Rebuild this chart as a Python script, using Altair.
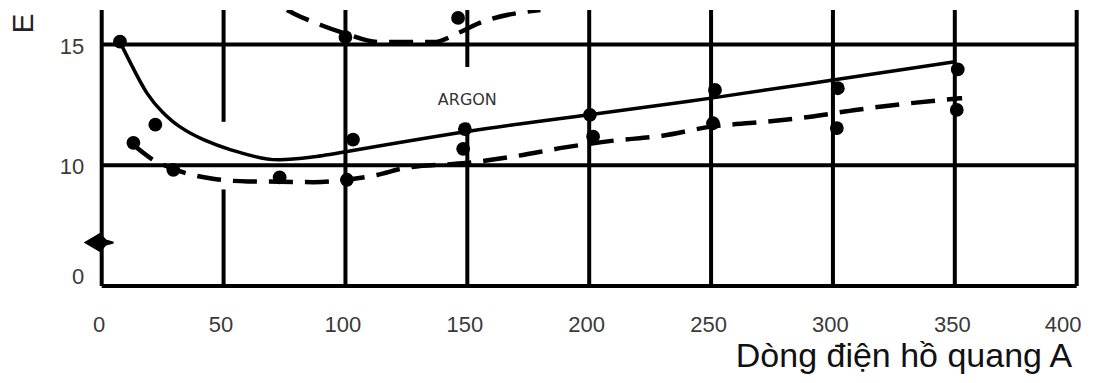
import altair as alt
import pandas as pd

# ---------------- data ----------------
# Argon, solid curve
solid_x = [7.5, 12, 18.5, 25, 32, 42, 53, 63, 73, 87, 100, 150, 200, 250, 300, 350]
solid_y = [15.1, 14.2, 13.0, 12.2, 11.6, 11.05, 10.64, 10.36, 10.23, 10.35, 10.56,
           11.40, 12.09, 12.78, 13.53, 14.29]
solid_pts_x = [7.5, 103.1, 149, 200.3, 251.6, 302, 351.2]
solid_pts_y = [15.12, 11.06, 11.5, 12.09, 13.12, 13.19, 13.97]

# Argon, dashed curve
dash_x = [13, 20, 29.4, 45, 60, 73, 87, 100.6, 113, 125, 150, 170, 190, 210, 230,
          250, 270, 290, 310, 330, 353]
dash_y = [10.85, 10.3, 9.85, 9.45, 9.33, 9.32, 9.3, 9.4, 9.6, 9.9, 10.1, 10.38, 10.74,
          11.02, 11.22, 11.6, 11.78, 12.0, 12.3, 12.55, 12.78]
dash_pts_x = [13, 22, 29.4, 73, 100.6, 148.3, 201.6, 250.8, 301.6, 350.8]
dash_pts_y = [10.93, 11.68, 9.81, 9.5, 9.40, 10.68, 11.19, 11.74, 11.54, 12.29]

# upper dashed curve (leaves the top of the frame)
top_x = [76, 78.5, 89.6, 99.8, 114, 126.5, 136, 146.7, 154, 180]
top_y = [16.43, 16.3, 15.82, 15.46, 15.1, 15.1, 15.1, 15.5, 15.85, 16.43]
top_pts_x = [100, 146.2]
top_pts_y = [15.31, 16.1]

# marker on the E axis
mark_x = [0]
mark_y = [6.8]

# frame / grid lines
v_x = [0, 100, 200, 250, 300, 350, 400, 50, 50, 150, 150]
v_y1 = [5, 5, 5, 5, 5, 5, 5, 5, 11.8, 5, 14.07]
v_y2 = [16.43, 16.43, 16.43, 16.43, 16.43, 16.43, 16.43, 9.0, 16.43, 11.76, 16.43]
h_y = [5, 10, 15]
h_x1 = [0, 0, 0]
h_x2 = [400, 400, 400]

x_ticks = [0, 50, 100, 150, 200, 250, 300, 350, 400]
y_ticks = [5, 10, 15]

label_text = ["ARGON"]
label_x = [150]
label_y = [12.7]

X_DOM = [0, 400]
Y_DOM = [5, 16.43]

# ---------------- chart ----------------
xs = alt.Scale(domain=X_DOM, nice=False, zero=False)
ys = alt.Scale(domain=Y_DOM, nice=False, zero=False)

FONT = "Liberation Sans"

x_axis = alt.Axis(
    values=x_ticks, ticks=False, domain=False, grid=False,
    labelFont=FONT, labelFontSize=22, labelColor="#3a3a3a", labelPadding=29,
    labelFlush=False,
    labelOffset={"condition": {"test": "datum.value == 400", "value": -14}, "value": -3},
    title="Dòng điện hồ quang A", titleFont=FONT, titleFontSize=34,
    titleFontWeight="normal", titleColor="#111111",
    titleAnchor="end", titleAlign="right", titleBaseline="alphabetic",
    titleX=970, titleY=81,
)
y_axis = alt.Axis(
    values=y_ticks, ticks=False, domain=False, grid=False,
    labelFont=FONT, labelFontSize=22, labelColor="#3a3a3a", labelPadding=18,
    labelFlush=False,
    labelExpr="datum.value == 5 ? '0' : datum.label",
    labelOffset={"condition": {"test": "datum.value == 5", "value": -9}, "value": 1.5},
    title="E", titleFont=FONT, titleFontSize=30, titleFontWeight="normal",
    titleColor="#222222", titleAngle=270, titleAlign="center",
    titleBaseline="alphabetic", titleX=-69, titleY=13,
)

def X(field):
    return alt.X(field, scale=xs, axis=x_axis)

def Y(field):
    return alt.Y(field, scale=ys, axis=y_axis)

vgrid = pd.DataFrame({"x": v_x, "y1": v_y1, "y2": v_y2})
hgrid = pd.DataFrame({"y": h_y, "x1": h_x1, "x2": h_x2})

v_rules = alt.Chart(vgrid).mark_rule(color="black", strokeWidth=4).encode(
    x=X("x:Q"), y=Y("y1:Q"), y2="y2:Q",
)
h_rules = alt.Chart(hgrid).mark_rule(color="black", strokeWidth=4).encode(
    x=X("x1:Q"), x2="x2:Q", y=Y("y:Q"),
)

def line(xv, yv, dashed, width, interp):
    df = pd.DataFrame({"x": xv, "y": yv, "o": list(range(len(xv)))})
    kw = dict(color="black", strokeWidth=width, interpolate=interp, clip=True)
    if dashed:
        kw["strokeDash"] = [24, 12]
    return alt.Chart(df).mark_line(**kw).encode(
        x=X("x:Q"), y=Y("y:Q"), order="o:Q",
    )

def dots(xv, yv):
    df = pd.DataFrame({"x": xv, "y": yv})
    return alt.Chart(df).mark_circle(color="black", opacity=1, size=190, clip=True).encode(
        x=X("x:Q"), y=Y("y:Q"),
    )

marker = alt.Chart(pd.DataFrame({"x": mark_x, "y": mark_y})).mark_point(
    shape="M -1.2 0 L -0.1 -0.65 L 0.3 -0.2 L 0.8 -0.06 L 0.8 0.06 L 0.3 0.2 L -0.1 0.65 Z",
    filled=True, color="black", opacity=1, size=900, strokeWidth=0,
).encode(x=X("x:Q"), y=Y("y:Q"))

label = alt.Chart(pd.DataFrame({"t": label_text, "x": label_x, "y": label_y})).mark_text(
    font="DejaVu Sans", fontSize=16, color="#333333", align="center", baseline="middle",
).encode(x=X("x:Q"), y=Y("y:Q"), text="t:N")

chart = alt.layer(
    v_rules, h_rules,
    line(solid_x, solid_y, False, 3.5, "natural"),
    line(dash_x, dash_y, True, 4.5, "monotone"),
    line(top_x, top_y, True, 4.5, "monotone"),
    dots(solid_pts_x, solid_pts_y),
    dots(dash_pts_x, dash_pts_y),
    dots(top_pts_x, top_pts_y),
    marker, label,
).properties(
    width=975, height=276,
    autosize=alt.AutoSizeParams(type="none"),
    padding={"left": 93.7, "top": 2, "right": 15, "bottom": 89},
    background="white",
).configure_view(stroke=None)

chart.save("out.html", embed_options={"renderer": "svg", "actions": False})
